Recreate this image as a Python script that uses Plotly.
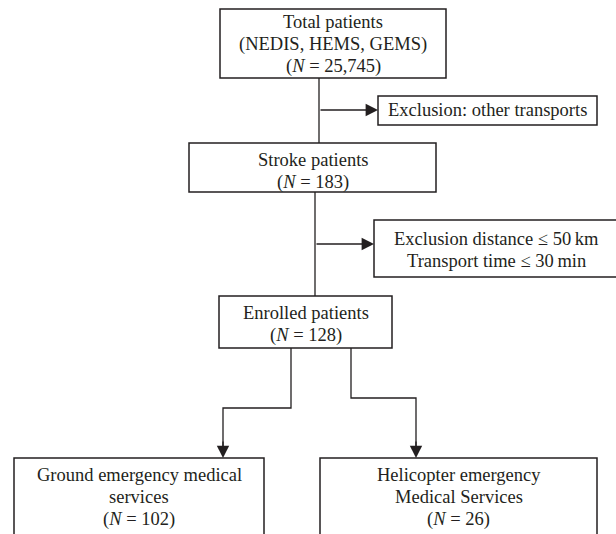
import plotly.graph_objects as go

# ---- content ----
box_titles = [
    ["Total patients", "(NEDIS, HEMS, GEMS)"],
    ["Stroke patients"],
    ["Enrolled patients"],
    ["Ground emergency medical", "services"],
    ["Helicopter emergency", "Medical Services"],
]
box_counts = ["25,745", "183", "128", "102", "26"]
exclusion_texts = [
    ["Exclusion: other transports"],
    ["Exclusion distance \u2264 50\u2009km", "Transport time \u2264 30\u2009min"],
]

# ---- geometry (page pixel layout) ----
boxes = [  # x0, y0, x1, y1
    (220, 9, 446, 78),
    (189, 143, 436, 192),
    (219, 296, 392, 348),
    (14, 458, 264, 545),
    (320, 458, 597, 545),
]
box_line_y0 = [22, 160, 313, 475, 475]
excl_boxes = [
    (378, 96, 597, 125),
    (374, 220, 625, 277),
]
excl_line_y0 = [110, 239]
LINE_GAP = 22

W, H = 616, 534
LINE = "#231f20"
FONT = dict(family="Liberation Serif, Times New Roman, serif", size=18.5, color="#231f20")

fig = go.Figure()
shapes = []
annotations = []

for (x0, y0, x1, y1) in boxes + excl_boxes:
    shapes.append(dict(type="rect", x0=x0, y0=y0, x1=x1, y1=y1, xref="x", yref="y",
                       line=dict(color=LINE, width=1.5), fillcolor="rgba(0,0,0,0)"))

segments = [
    [(319, 78), (319, 143)],
    [(315, 192), (315, 296)],
    [(291, 348), (291, 408), (223, 408), (223, 448)],
    [(351, 348), (351, 398), (416, 398), (416, 448)],
]
for seg in segments:
    path = "M " + " L ".join(f"{x},{y}" for x, y in seg)
    shapes.append(dict(type="path", path=path, xref="x", yref="y",
                       line=dict(color=LINE, width=1.3)))

arrows = [
    ((319, 110), (378, 110)),
    ((315, 244), (374, 244)),
    ((223, 440), (223, 458)),
    ((416, 440), (416, 458)),
]
for (sx, sy), (ex, ey) in arrows:
    annotations.append(dict(x=ex, y=ey, ax=sx, ay=sy, xref="x", yref="y", axref="x", ayref="y",
                            showarrow=True, arrowhead=2, arrowsize=1.9, arrowwidth=1.3,
                            arrowcolor=LINE, text=""))

def add_lines(cx, y0, lines):
    for i, t in enumerate(lines):
        annotations.append(dict(x=cx, y=y0 + i * LINE_GAP, xref="x", yref="y", showarrow=False,
                                text=t, font=FONT, align="center"))

for (x0, y0, x1, y1), title, n, ty in zip(boxes, box_titles, box_counts, box_line_y0):
    add_lines((x0 + x1) / 2, ty, title + [f"(<i>N</i> = {n})"])

for (x0, y0, x1, y1), t, ty in zip(excl_boxes, exclusion_texts, excl_line_y0):
    add_lines((x0 + min(x1, 618)) / 2, ty, t)

fig.update_layout(
    width=W, height=H, margin=dict(l=0, r=0, t=0, b=0),
    paper_bgcolor="white", plot_bgcolor="white",
    xaxis=dict(range=[0, W], visible=False, fixedrange=True),
    yaxis=dict(range=[H, 0], visible=False, fixedrange=True),
    shapes=shapes, annotations=annotations, showlegend=False,
)
fig.write_html(
    "out.html",
    config={"displayModeBar": False},
    post_script="document.body.style.margin='0px';document.body.style.overflow='hidden';",
)
